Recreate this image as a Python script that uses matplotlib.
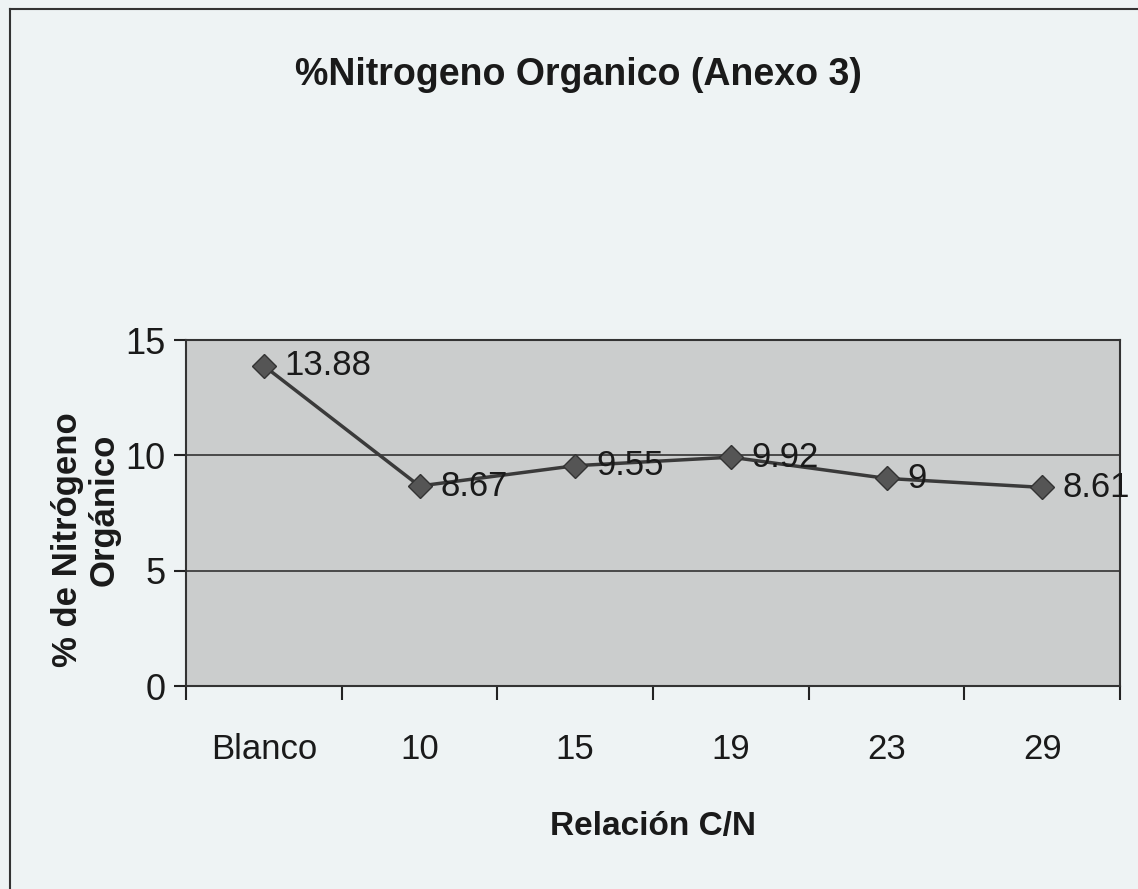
import matplotlib
matplotlib.use("Agg")
import matplotlib.pyplot as plt
from matplotlib.lines import Line2D

categories = ["Blanco", "10", "15", "19", "23", "29"]
values = [13.88, 8.67, 9.55, 9.92, 9.0, 8.61]
labels = ["13.88", "8.67", "9.55", "9.92", "9", "8.61"]
yticks = [0, 5, 10, 15]

plt.rcParams['font.family'] = ['Liberation Sans', 'DejaVu Sans']

W, H = 1138, 889
fig = plt.figure(figsize=(W / 100, H / 100), dpi=100)
fig.patch.set_facecolor('#eef3f4')

# outer frame (top and left edges)
fig.add_artist(Line2D([10 / W, 1.0], [1 - 9 / H, 1 - 9 / H], color='#333333', lw=1.5))
fig.add_artist(Line2D([10 / W, 10 / W], [0.0, 1 - 9 / H], color='#333333', lw=1.5))

ax = fig.add_axes([186 / W, 1 - 686 / H, 934 / W, 346 / H])
ax.set_facecolor('#cbcdcd')

x = list(range(len(categories)))
ax.plot(x, values, color='#3a3a3a', lw=2.5, marker='D', markersize=12,
        markerfacecolor='#555555', markeredgecolor='#333333', zorder=3)
for xi, v, t in zip(x, values, labels):
    ax.annotate(t, (xi, v), xytext=(15, 0), textcoords='offset points',
                ha='left', va='center', fontsize=25, color='#1a1a1a', zorder=4)

ax.set_xlim(-0.5, len(categories) - 0.5)
ax.set_ylim(0, 15)
ax.set_yticks(yticks)
ax.set_yticklabels([str(t) for t in yticks], fontsize=26, color='#1a1a1a')
ax.set_xticks(x)
ax.set_xticklabels(categories, fontsize=25, color='#1a1a1a')
ax.set_xticks([i - 0.5 for i in range(len(categories) + 1)], minor=True)
ax.tick_params(axis='x', which='major', length=0, pad=34)
ax.tick_params(axis='x', which='minor', length=10, width=1.5, color='#222222')
ax.tick_params(axis='y', length=9, width=1.5, color='#222222', pad=6)
ax.grid(axis='y', color='#333333', lw=1.2)
ax.set_axisbelow(True)
for s in ax.spines.values():
    s.set_color('#333333')
    s.set_linewidth(1.5)

ax.set_xlabel("Relación C/N", fontsize=24, fontweight='bold', color='#1a1a1a', labelpad=32)

# y-axis title, two lines
fig.text(67 / W, 1 - 540 / H, "% de Nitrógeno", rotation=90, ha='center', va='center',
         fontsize=25, fontweight='bold', color='#1a1a1a')
fig.text(104 / W, 1 - 510 / H, "Orgánico", rotation=90, ha='center', va='center',
         fontsize=25, fontweight='bold', color='#1a1a1a')

fig.text(578 / W, 1 - 75 / H, "%Nitrogeno Organico (Anexo 3)", ha='center', va='center',
         fontsize=27, fontweight='bold', color='#1a1a1a')

fig.savefig("out.png", dpi=100, facecolor=fig.get_facecolor())
